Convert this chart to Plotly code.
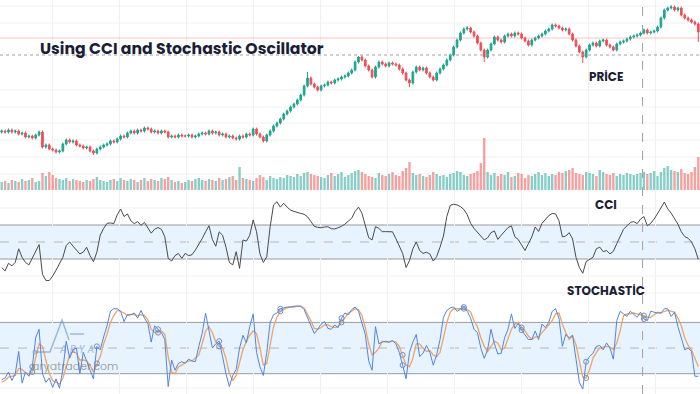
import plotly.graph_objects as go

# ---------------- data ----------------
close = [
    69, 68, 70, 68, 69, 66, 67, 63, 64, 62,
    65, 68, 53, 55, 51, 50, 48, 49, 56, 60,
    58, 59, 55, 54, 52, 53, 49, 47, 51, 53,
    55, 56, 59, 58, 61, 64, 63, 67, 69, 67,
    70, 69, 72, 71, 68, 69, 67, 69, 68, 63,
    64, 63, 65, 64, 64, 65, 63, 64, 66, 67,
    66, 69, 67, 68, 65, 66, 63, 64, 62, 61,
    64, 63, 66, 65, 71, 66, 63, 59, 65, 69,
    74, 77, 81, 86, 89, 93, 96, 100, 105, 114,
    122, 116, 113, 110, 114, 115, 118, 117, 120, 121,
    123, 124, 127, 130, 138, 143, 140, 134, 130, 123,
    133, 138, 136, 134, 137, 136, 135, 131, 127, 120,
    117, 128, 133, 130, 132, 127, 123, 120, 127, 131,
    135, 140, 145, 153, 160, 167, 171, 172, 168, 164,
    157, 150, 143, 150, 156, 163, 160, 158, 164, 166,
    164, 167, 166, 162, 159, 155, 160, 162, 164, 166,
    169, 171, 175, 174, 172, 170, 171, 166, 160, 154,
    148, 143, 150, 155, 157, 154, 159, 160, 155, 153,
    150, 156, 158, 159, 161, 163, 164, 165, 167, 170,
    167, 168, 169, 173, 182, 190, 192, 193, 190, 192,
    185, 182, 180, 178, 176, 168,
]

long_high = {90: 128, 105: 144, 137: 174, 197: 195}
long_low = {27: 45, 120: 113, 142: 138, 171: 137, 205: 158}

volume = [
    80, 90, 70, 100, 90, 80, 110, 90, 100, 120,
    80, 90, 170, 140, 180, 150, 120, 110, 100, 120,
    90, 110, 100, 90, 80, 100, 90, 110, 130, 100,
    90, 80, 100, 110, 90, 120, 100, 90, 110, 100,
    80, 100, 120, 90, 110, 100, 90, 120, 110, 130,
    100, 80, 90, 70, 80, 100, 90, 110, 120, 100,
    90, 110, 100, 90, 120, 100, 110, 130, 140, 100,
    230, 120, 110, 100, 90, 120, 150, 130, 100, 140,
    120, 110, 130, 120, 150, 140, 130, 160, 140, 170,
    180, 160, 150, 140, 130, 120, 150, 170, 140, 160,
    180, 130, 150, 170, 190, 200, 180, 160, 140, 130,
    120, 170, 150, 140, 160, 180, 150, 140, 190, 220,
    280, 170, 150, 160, 140, 130, 150, 180, 160, 140,
    150, 130, 160, 170, 190, 180, 150, 140, 160, 170,
    190, 270, 520, 180, 150, 170, 140, 160, 150, 180,
    130, 140, 170, 160, 120, 150, 140, 160, 180, 150,
    170, 140, 160, 150, 180, 170, 190, 200, 220, 170,
    160, 150, 180, 170, 160, 140, 200, 180, 160, 150,
    170, 140, 160, 150, 170, 160, 150, 160, 170, 180,
    160, 170, 190, 140, 180, 220, 240, 200, 190, 180,
    210, 170, 160, 180, 230, 330,
]

cci = [
    -150, -170, -125, -140, -120, -40, -90, -120, -135, -95,
    -60, -15, -190, -226, -227, -200, -165, -130, -90, -20,
    0, -25, -45, -70, -60, -31, -80, -116, -60, 40,
    80, 110, 112, 108, 160, 194, 150, 165, 125, 108,
    120, 98, 115, 85, 52, 75, 85, 75, 30, -96,
    -112, -80, -68, -96, -67, -80, -75, -47, -15, 20,
    60, 96, 15, -25, 60, 40, -30, -120, -135, -57,
    -155, 12, 5, 40, 130, 60, -70, -120, -86, 90,
    218, 237, 205, 228, 205, 188, 180, 172, 168, 163,
    148, 120, 92, 86, 84, 88, 90, 78, 77, 84,
    92, 105, 125, 140, 180, 205, 170, 90, 25, 12,
    90, 80, 61, 61, 62, 60, 20, -20, -67, -150,
    -110, -40, 0, -50, -67, -60, -70, -112, -86, -30,
    35, 150, 215, 222, 218, 208, 192, 160, 110, 80,
    55, 35, 12, 25, 55, 65, 15, 40, 60, 85,
    95, 31, 15, -15, -50, -10, 30, 88, 62, 110,
    135, 155, 168, 165, 125, 30, 35, 55, 18, -90,
    -150, -184, -115, -100, -90, -40, -30, -57, -50, -70,
    -55, -10, 30, 75, 95, 115, 120, 108, 135, 150,
    95, 110, 135, 165, 200, 235, 195, 170, 140, 105,
    60, 32, 22, 0, -40, -102,
]

stoch_k = [
    13, 15, 22, 12, 20, 46, 9, 22, 17, 28,
    62, 72, 20, 10, 15, 4, 14, 3, 25, 58,
    38, 48, 50, 20, 45, 35, 24, 14, 52, 48,
    63, 76, 93, 96, 96, 93, 81, 89, 89, 91,
    85, 94, 85, 79, 57, 76, 72, 68, 60, 5,
    36, 24, 32, 34, 32, 37, 35, 34, 52, 67,
    91, 68, 50, 55, 58, 40, 20, 5, 18, 25,
    50, 65, 56, 75, 90, 45, 28, 18, 45, 80,
    89, 91, 96, 97, 98, 98, 99, 99, 99, 95,
    85, 75, 67, 72, 78, 81, 73, 72, 77, 74,
    85, 91, 89, 95, 98, 93, 80, 66, 35, 24,
    75, 55, 57, 58, 57, 59, 55, 45, 30, 14,
    45, 57, 66, 40, 44, 53, 45, 30, 42, 60,
    86, 94, 97, 98, 93, 96, 98, 93, 85, 72,
    68, 50, 38, 48, 72, 55, 43, 44, 62, 72,
    90, 73, 79, 71, 66, 60, 60, 70, 60, 78,
    74, 80, 93, 96, 85, 52, 66, 62, 65, 35,
    10, 2, 34, 40, 44, 52, 53, 48, 56, 50,
    37, 82, 93, 90, 87, 93, 90, 86, 92, 84,
    82, 93, 92, 91, 91, 96, 96, 87, 92, 75,
    62, 48, 50, 46, 17, 17,
]

stoch_d = [
    10, 12, 16, 17, 18, 26, 25, 21, 18, 22,
    40, 55, 52, 36, 20, 12, 10, 8, 15, 30,
    42, 46, 44, 36, 36, 35, 30, 22, 32, 40,
    55, 66, 80, 88, 94, 93, 91, 88, 89, 89,
    88, 89, 88, 83, 72, 68, 68, 70, 66, 40,
    22, 20, 28, 30, 33, 35, 35, 38, 42, 55,
    70, 75, 68, 57, 52, 50, 38, 20, 12, 18,
    32, 48, 58, 65, 70, 67, 50, 30, 32, 55,
    75, 86, 93, 95, 97, 98, 98, 99, 99, 97,
    90, 82, 73, 72, 74, 77, 77, 75, 74, 75,
    80, 86, 91, 93, 96, 95, 88, 74, 55, 42,
    45, 50, 58, 57, 57, 58, 57, 52, 42, 30,
    28, 38, 55, 55, 50, 46, 47, 42, 40, 45,
    62, 80, 92, 96, 96, 96, 96, 95, 92, 82,
    75, 62, 52, 46, 52, 58, 56, 48, 50, 60,
    72, 78, 80, 74, 70, 64, 60, 63, 63, 68,
    72, 77, 82, 90, 91, 78, 68, 60, 64, 54,
    35, 16, 15, 25, 38, 45, 50, 51, 52, 51,
    48, 56, 70, 88, 90, 90, 91, 90, 89, 88,
    86, 86, 89, 92, 91, 93, 94, 93, 92, 85,
    76, 62, 53, 48, 38, 28,
]

cross_idx = [9, 28, 46, 64, 82, 100, 118, 136, 153, 172, 189]

title_text = "Using CCI and Stochastic Oscillator"
labels = {"price": "PRİCE", "cci": "CCI", "stoch": "STOCHASTİC"}
watermark = "aryatrader.com"
logo_text = "A R Y A"

# ---------------- build ----------------
N = len(close)
assert all(len(a) == N for a in (volume, cci, stoch_k, stoch_d)), "length mismatch"
idx = list(range(N))
open_ = [close[0] - 1] + close[:-1]
high = [max(o, c) + 1.5 for o, c in zip(open_, close)]
low = [min(o, c) - 1.5 for o, c in zip(open_, close)]
for k, v in long_high.items():
    high[k] = v
for k, v in long_low.items():
    low[k] = v

GREEN = "#1ea58f"
RED = "#ef4f57"
vol_colors = ["rgba(38,166,154,0.55)" if c >= o else "rgba(239,83,80,0.55)"
              for o, c in zip(open_, close)]

fig = go.Figure()
fig.add_trace(go.Bar(x=idx, y=volume, marker=dict(color=vol_colors, line=dict(width=0)),
                     yaxis="y2", showlegend=False, hoverinfo="skip"))
fig.add_trace(go.Candlestick(
    x=idx, open=open_, high=high, low=low, close=close,
    increasing=dict(line=dict(color=GREEN, width=1), fillcolor=GREEN),
    decreasing=dict(line=dict(color=RED, width=1), fillcolor=RED),
    whiskerwidth=0, yaxis="y", showlegend=False))
fig.add_trace(go.Scatter(x=idx, y=cci, mode="lines", line=dict(color="#4a4a4a", width=1),
                         yaxis="y3", showlegend=False))
fig.add_trace(go.Scatter(x=idx, y=stoch_d, mode="lines", line=dict(color="#f0a465", width=1.3),
                         yaxis="y4", showlegend=False))
fig.add_trace(go.Scatter(x=idx, y=stoch_k, mode="lines", line=dict(color="#5284e6", width=1),
                         yaxis="y4", showlegend=False))
fig.add_trace(go.Scatter(x=cross_idx, y=[stoch_k[i] for i in cross_idx], mode="markers",
                         marker=dict(symbol="circle-open", size=5, color="#6f8fc8", line=dict(width=1)),
                         yaxis="y4", showlegend=False))
fig.add_trace(go.Scatter(x=cross_idx, y=[stoch_d[i] for i in cross_idx], mode="markers",
                         marker=dict(symbol="circle-open", size=5, color="#6f8fc8", line=dict(width=1)),
                         yaxis="y4", showlegend=False))

BAND = "rgba(33,150,243,0.11)"
BORDER = "#9a9a9a"
shapes = []
# horizontal faint grid lines (paper coords)
for py in [6, 23, 90, 107, 123, 140, 157, 174, 208, 276, 293, 388]:
    shapes.append(dict(type="line", xref="paper", yref="paper", x0=0, x1=1,
                       y0=1 - py / 394, y1=1 - py / 394,
                       line=dict(color="#f0f0f0", width=1), layer="below"))
for yr, lo_, hi_, mid in [("y3", -100, 100, 0), ("y4", 20, 80, 50)]:
    shapes.append(dict(type="rect", xref="paper", yref=yr, x0=0, x1=1, y0=lo_, y1=hi_,
                       fillcolor=BAND, line=dict(width=0), layer="below"))
    for v in (lo_, hi_):
        shapes.append(dict(type="line", xref="paper", yref=yr, x0=0, x1=1, y0=v, y1=v,
                           line=dict(color=BORDER, width=1), layer="below"))
    shapes.append(dict(type="line", xref="paper", yref=yr, x0=0, x1=1, y0=mid, y1=mid,
                       line=dict(color="#b5b5b5", width=1, dash="dash"), layer="below"))
# crosshair
shapes.append(dict(type="line", xref="x", yref="paper", x0=188.6, x1=188.6, y0=0, y1=1,
                   line=dict(color="#a0a0a0", width=1, dash="dash")))
shapes.append(dict(type="line", xref="paper", yref="y", x0=0, x1=1, y0=145, y1=145,
                   line=dict(color="#a0a0a0", width=1, dash="dot")))
shapes.append(dict(type="line", xref="paper", yref="y", x0=0, x1=1, y0=162, y1=162,
                   line=dict(color="rgba(239,83,80,0.35)", width=1)))


# watermark logo outline (pixel points -> paper coords)
def P(x, y):
    return f"{x / 700:.4f},{1 - y / 394:.4f}"


logo_path = ("M " + P(35, 352) + " L " + P(50, 352) + " L " + P(62, 320) + " L " + P(69, 340)
             + " M " + P(70, 334) + " L " + P(84, 334))
shapes.append(dict(type="path", xref="paper", yref="paper", path=logo_path,
                   line=dict(color="rgba(95,135,195,0.55)", width=1.5)))
shapes.append(dict(type="circle", xref="paper", yref="paper",
                   x0=33 / 700, x1=37 / 700, y0=1 - 354 / 394, y1=1 - 350 / 394,
                   line=dict(color="rgba(95,135,195,0.55)", width=1)))

FONT = "Poppins, Inter, Roboto, sans-serif"
NAVY = "#1b1e36"
annotations = [
    dict(text="<b>" + title_text + "</b>", x=38 / 700, y=1 - 48 / 394, xref="paper", yref="paper",
         xanchor="left", yanchor="middle", showarrow=False,
         font=dict(family=FONT, size=15.7, color=NAVY)),
    dict(text="<b>" + labels["price"] + "</b>", x=606 / 700, y=1 - 76.5 / 394, xref="paper",
         yref="paper", xanchor="center", yanchor="middle", showarrow=False,
         font=dict(family=FONT, size=12, color=NAVY)),
    dict(text="<b>" + labels["cci"] + "</b>", x=606 / 700, y=1 - 204 / 394, xref="paper",
         yref="paper", xanchor="center", yanchor="middle", showarrow=False,
         font=dict(family=FONT, size=12, color=NAVY)),
    dict(text="<b>" + labels["stoch"] + "</b>", x=605.5 / 700, y=1 - 290.5 / 394, xref="paper",
         yref="paper", xanchor="center", yanchor="middle", showarrow=False,
         font=dict(family=FONT, size=12, color=NAVY)),
    dict(text="<i>" + logo_text + "</i>", x=57 / 700, y=1 - 349 / 394, xref="paper", yref="paper",
         xanchor="left", yanchor="middle", showarrow=False,
         font=dict(family=FONT, size=10, color="rgba(95,135,195,0.55)")),
    dict(text=watermark, x=30 / 700, y=1 - 366 / 394, xref="paper", yref="paper",
         xanchor="left", yanchor="middle", showarrow=False,
         font=dict(family=FONT, size=11, color="rgba(110,110,110,0.6)")),
]

hidden = dict(visible=False, fixedrange=True, domain=[0, 1])
fig.update_layout(
    width=700, height=394, autosize=False,
    margin=dict(l=0, r=0, t=0, b=0, pad=0),
    paper_bgcolor="white", plot_bgcolor="white",
    showlegend=False, bargap=0.3,
    xaxis=dict(range=[-0.5, N - 0.5], domain=[0, 1], showgrid=True, gridcolor="#f0f0f0",
               tick0=15, dtick=19.7, showticklabels=False, zeroline=False, ticks="",
               rangeslider=dict(visible=False), fixedrange=True, showline=False),
    yaxis=dict(range=[-194, 200], **hidden),
    yaxis2=dict(range=[-2040, 1900], overlaying="y", **hidden),
    yaxis3=dict(range=[-894.1, 1423.5], overlaying="y", **hidden),
    yaxis4=dict(range=[-3.74, 457.1], overlaying="y", **hidden),
    shapes=shapes, annotations=annotations,
)

fig.write_html("out.html", config={"displayModeBar": False},
               post_script="document.body.style.margin='0';document.body.style.padding='0';document.body.style.overflow='hidden';")
